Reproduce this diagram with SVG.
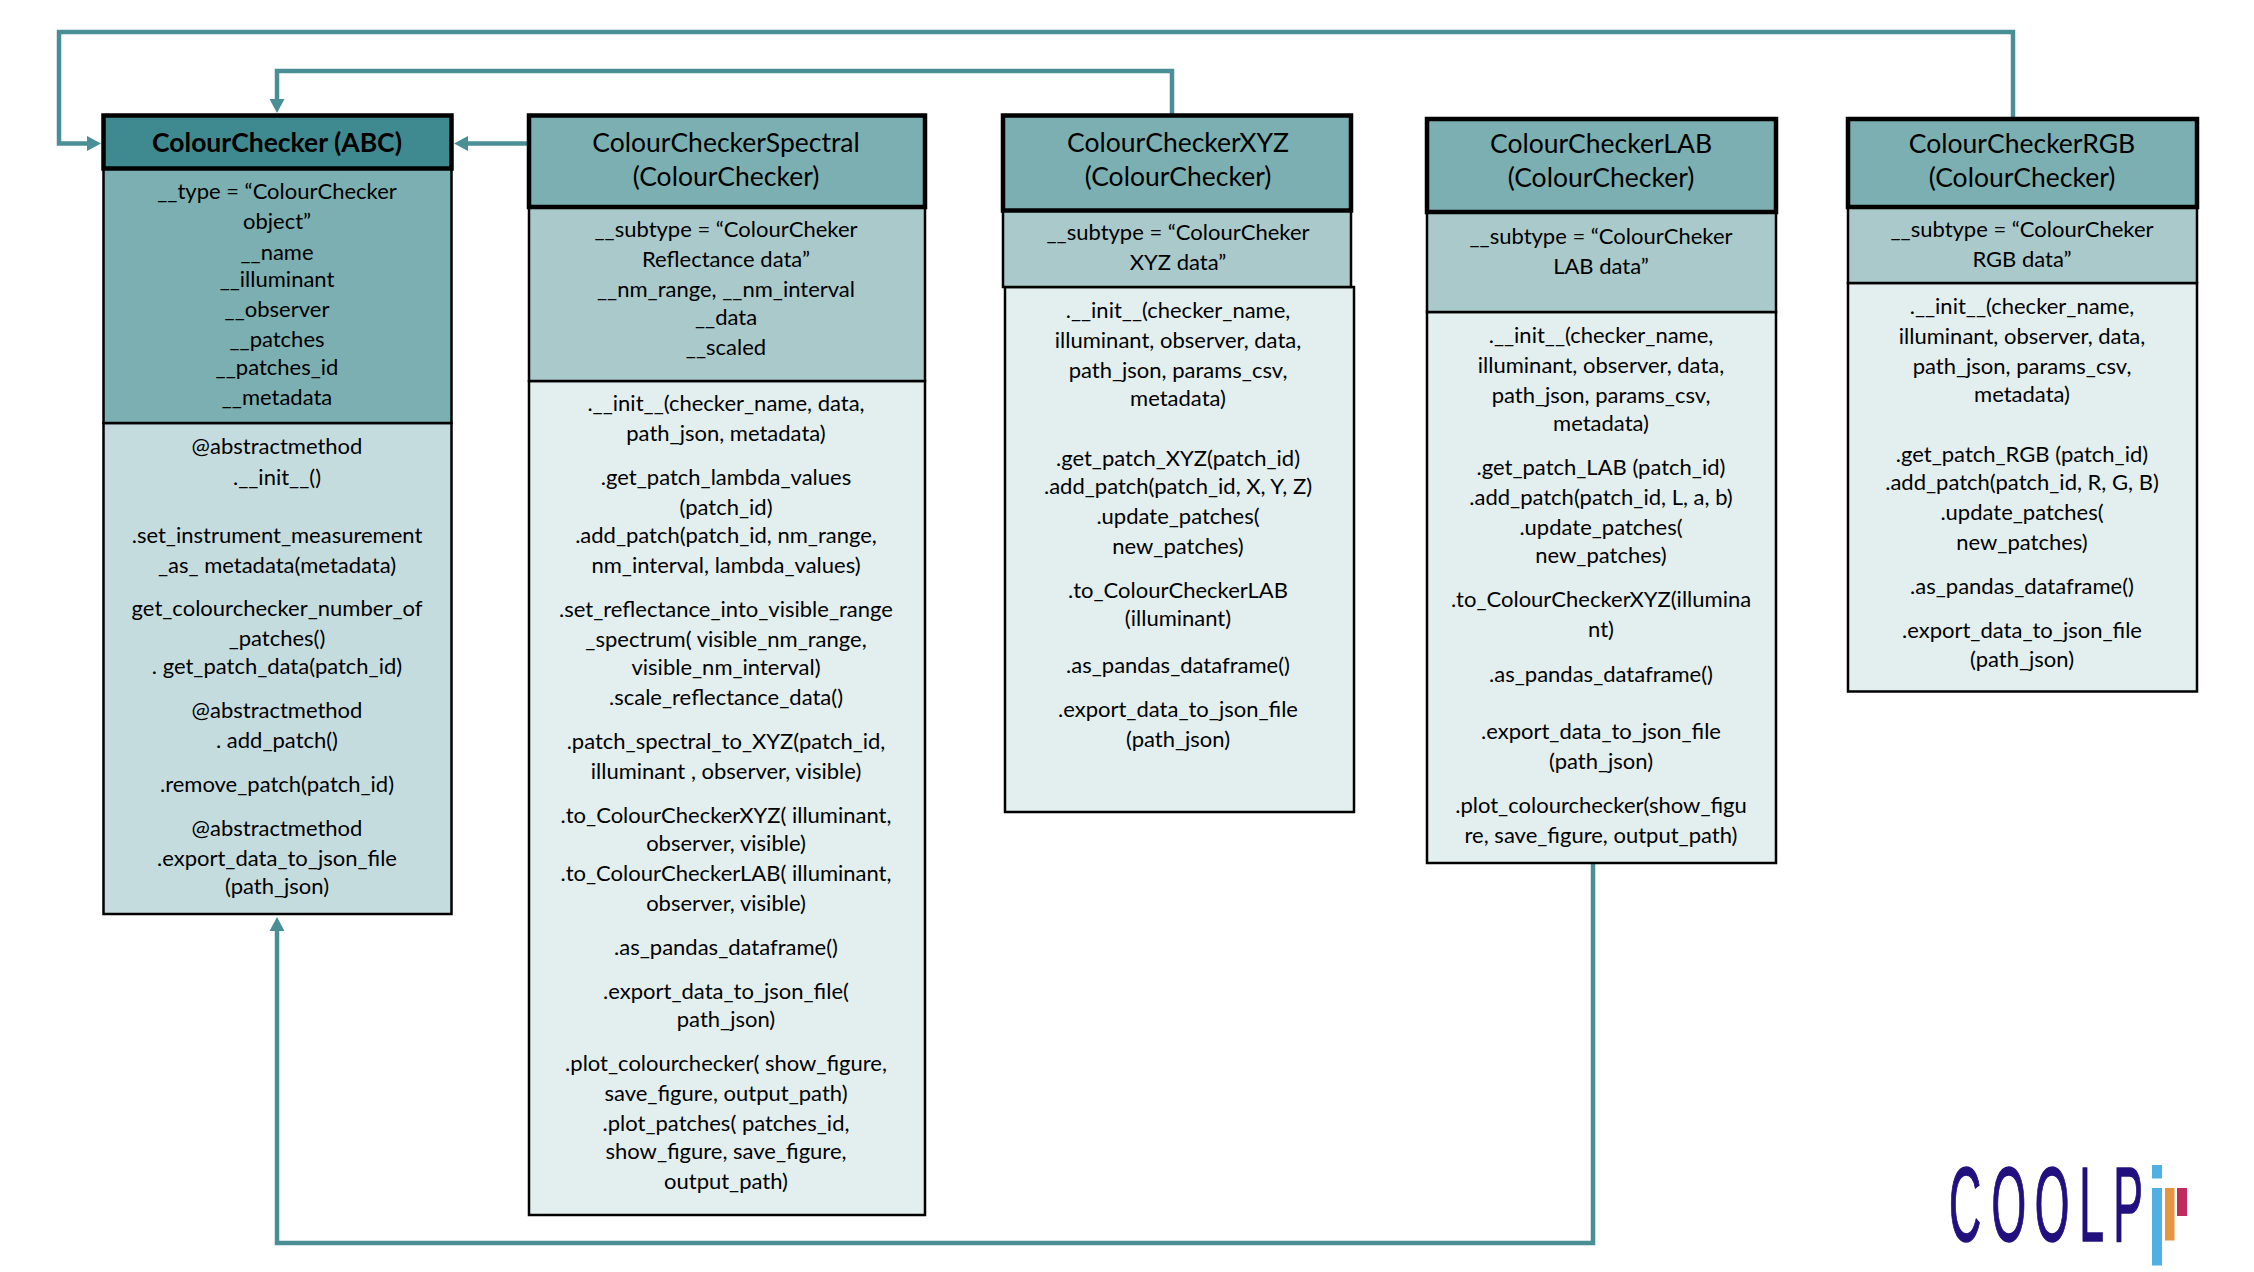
<svg xmlns="http://www.w3.org/2000/svg" width="2254" height="1272" viewBox="0 0 2254 1272">
<style>
text{font-family:Lato,"Liberation Sans",sans-serif;font-size:22px;fill:#000;text-anchor:middle}
.t{font-size:26.5px}
.tb{font-size:26.5px;font-weight:700}
.h{stroke:#000;stroke-width:4.5}
.o{stroke:#000;stroke-width:2.5}
.c{fill:none;stroke:#4a8f96;stroke-width:4.5}
.logo{font-family:"Liberation Sans",sans-serif;font-size:106px;fill:#21107e;stroke:#21107e;stroke-width:1.5;text-anchor:start}
</style>
<defs>
<marker id="arr" markerUnits="userSpaceOnUse" markerWidth="15" markerHeight="16" refX="1" refY="8" orient="auto"><path d="M0,0.5 L14,8 L0,15.5 z" fill="#4a8f96"/></marker>
</defs>
<rect width="2254" height="1272" fill="#fff"/>
<g id="connectors">
<path class="c" marker-end="url(#arr)" d="M2013,118 V32 H59 V143.500 H88"/>
<path class="c" marker-end="url(#arr)" d="M1172,114 V71 H277 V100"/>
<path class="c" marker-end="url(#arr)" d="M528,143.500 H467"/>
<path class="c" marker-end="url(#arr)" d="M1593,863 V1243 H277 V930"/>
</g>
<g id="node-colourchecker">
<rect class="o" x="103.500" y="423" width="348" height="491" fill="#c5dcdf"/>
<rect class="o" x="103.500" y="168" width="348" height="255" fill="#7bafb1"/>
<rect class="h" x="103.500" y="115.500" width="348" height="53" fill="#3f8a90"/>
<g transform="translate(277 0)">
<text class="tb" y="152">ColourChecker (ABC)</text>
<text y="199">__type = “ColourChecker</text>
<text y="229">object”</text>
<text y="260">__name</text>
<text y="287">__illuminant</text>
<text y="317">__observer</text>
<text y="347">__patches</text>
<text y="375">__patches_id</text>
<text y="405">__metadata</text>
<text y="454">@abstractmethod</text>
<text y="485">.__init__()</text>
<text y="543">.set_instrument_measurement</text>
<text y="573">_as_ metadata(metadata)</text>
<text y="616">get_colourchecker_number_of</text>
<text y="646">_patches()</text>
<text y="674">. get_patch_data(patch_id)</text>
<text y="718">@abstractmethod</text>
<text y="748">. add_patch()</text>
<text y="792">.remove_patch(patch_id)</text>
<text y="836">@abstractmethod</text>
<text y="866">.export_data_to_json_file</text>
<text y="894">(path_json)</text>
</g>
</g>
<g id="node-spectral">
<rect class="o" x="529" y="381" width="396" height="834" fill="#e3eeee"/>
<rect class="o" x="529" y="207" width="396" height="174" fill="#a9c9cb"/>
<rect class="h" x="529" y="115.500" width="396" height="91.500" fill="#7bafb1"/>
<g transform="translate(726 0)">
<text class="t" y="152">ColourCheckerSpectral</text>
<text class="t" y="186">(ColourChecker)</text>
<text y="237">__subtype = “ColourCheker</text>
<text y="267">Reflectance data”</text>
<text y="297">__nm_range,  __nm_interval</text>
<text y="325">__data</text>
<text y="355">__scaled</text>
<text y="411">.__init__(checker_name, data,</text>
<text y="441">path_json, metadata)</text>
<text y="485">.get_patch_lambda_values</text>
<text y="515">(patch_id)</text>
<text y="543">.add_patch(patch_id, nm_range,</text>
<text y="573">nm_interval, lambda_values)</text>
<text y="617">.set_reflectance_into_visible_range</text>
<text y="647">_spectrum( visible_nm_range,</text>
<text y="675">visible_nm_interval)</text>
<text y="705">.scale_reflectance_data()</text>
<text y="749">.patch_spectral_to_XYZ(patch_id,</text>
<text y="779">illuminant , observer, visible)</text>
<text y="823">.to_ColourCheckerXYZ( illuminant,</text>
<text y="851">observer, visible)</text>
<text y="881">.to_ColourCheckerLAB( illuminant,</text>
<text y="911">observer, visible)</text>
<text y="955">.as_pandas_dataframe()</text>
<text y="999">.export_data_to_json_file(</text>
<text y="1027">path_json)</text>
<text y="1071">.plot_colourchecker( show_figure,</text>
<text y="1101">save_figure, output_path)</text>
<text y="1131">.plot_patches( patches_id,</text>
<text y="1159">show_figure, save_figure,</text>
<text y="1189">output_path)</text>
</g>
</g>
<g id="node-xyz">
<rect class="o" x="1005" y="287" width="349" height="525" fill="#e3eeee"/>
<rect class="o" x="1003" y="210" width="348" height="77" fill="#a9c9cb"/>
<rect class="h" x="1003" y="115.500" width="348" height="95" fill="#7bafb1"/>
<g transform="translate(1178 0)">
<text class="t" y="152">ColourCheckerXYZ</text>
<text class="t" y="186">(ColourChecker)</text>
<text y="240">__subtype = “ColourCheker</text>
<text y="270">XYZ data”</text>
<text y="318">.__init__(checker_name,</text>
<text y="348">illuminant, observer, data,</text>
<text y="378">path_json, params_csv,</text>
<text y="406">metadata)</text>
<text y="466">.get_patch_XYZ(patch_id)</text>
<text y="494">.add_patch(patch_id, X, Y, Z)</text>
<text y="524">.update_patches(</text>
<text y="554">new_patches)</text>
<text y="598">.to_ColourCheckerLAB</text>
<text y="626">(illuminant)</text>
<text y="673">.as_pandas_dataframe()</text>
<text y="717">.export_data_to_json_file</text>
<text y="747">(path_json)</text>
</g>
</g>
<g id="node-lab">
<rect class="o" x="1427" y="312" width="349" height="551" fill="#e3eeee"/>
<rect class="o" x="1427" y="212" width="349" height="100" fill="#a9c9cb"/>
<rect class="h" x="1427" y="119" width="349" height="93" fill="#7bafb1"/>
<g transform="translate(1601 0)">
<text class="t" y="153">ColourCheckerLAB</text>
<text class="t" y="187">(ColourChecker)</text>
<text y="244">__subtype = “ColourCheker</text>
<text y="274">LAB data”</text>
<text y="343">.__init__(checker_name,</text>
<text y="373">illuminant, observer, data,</text>
<text y="403">path_json, params_csv,</text>
<text y="431">metadata)</text>
<text y="475">.get_patch_LAB (patch_id)</text>
<text y="505">.add_patch(patch_id, L, a, b)</text>
<text y="535">.update_patches(</text>
<text y="563">new_patches)</text>
<text y="607">.to_ColourCheckerXYZ(illumina</text>
<text y="637">nt)</text>
<text y="682">.as_pandas_dataframe()</text>
<text y="739">.export_data_to_json_file</text>
<text y="769">(path_json)</text>
<text y="813">.plot_colourchecker(show_figu</text>
<text y="843">re, save_figure, output_path)</text>
</g>
</g>
<g id="node-rgb">
<rect class="o" x="1848" y="283" width="349" height="408.500" fill="#e3eeee"/>
<rect class="o" x="1848" y="207" width="349" height="76" fill="#a9c9cb"/>
<rect class="h" x="1848" y="119" width="349" height="88" fill="#7bafb1"/>
<g transform="translate(2022 0)">
<text class="t" y="153">ColourCheckerRGB</text>
<text class="t" y="187">(ColourChecker)</text>
<text y="237">__subtype = “ColourCheker</text>
<text y="267">RGB data”</text>
<text y="314">.__init__(checker_name,</text>
<text y="344">illuminant, observer, data,</text>
<text y="374">path_json, params_csv,</text>
<text y="402">metadata)</text>
<text y="462">.get_patch_RGB (patch_id)</text>
<text y="490">.add_patch(patch_id, R, G, B)</text>
<text y="520">.update_patches(</text>
<text y="550">new_patches)</text>
<text y="594">.as_pandas_dataframe()</text>
<text y="638">.export_data_to_json_file</text>
<text y="667">(path_json)</text>
</g>
</g>
<g id="logo">
<text class="logo" transform="translate(1949 1240.500) scale(.42 1)" x="0 101 204 310 391" y="0">COOLP</text>
<rect x="2152" y="1165" width="10" height="13.500" fill="#4fb0e4"/>
<rect x="2152" y="1188" width="10" height="77.500" fill="#4fb0e4"/>
<rect x="2165" y="1188" width="9.500" height="52.500" fill="#e5943f"/>
<rect x="2177" y="1188" width="10" height="28" fill="#bf2d5e"/>
</g>
</svg>
